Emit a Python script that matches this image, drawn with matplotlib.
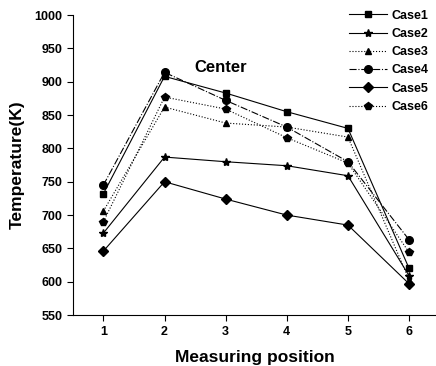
import matplotlib
matplotlib.use("Agg")
import matplotlib.pyplot as plt

positions = [1, 2, 3, 4, 5, 6]
case1 = [732, 908, 883, 855, 830, 620]
case2 = [673, 787, 780, 774, 759, 609]
case3 = [706, 862, 838, 832, 817, 603]
case4 = [745, 914, 872, 832, 780, 663]
case5 = [646, 750, 724, 700, 685, 597]
case6 = [690, 877, 859, 816, 778, 644]
labels = ["Case1", "Case2", "Case3", "Case4", "Case5", "Case6"]
yticks = [550, 600, 650, 700, 750, 800, 850, 900, 950, 1000]

plt.rcParams['font.family'] = ['Liberation Sans', 'DejaVu Sans']
plt.rcParams['font.weight'] = 'bold'

fig = plt.figure(figsize=(4.36, 3.66), dpi=100)
ax = fig.add_axes([0.167, 0.139, 0.833, 0.820])

series = [case1, case2, case3, case4, case5, case6]
markers = ['s', '*', '^', 'o', 'D', 'p']
styles = ['-', '-', ':', '-.', '-', ':']
msizes = [5, 6, 5, 5.5, 5, 6]
for ys, m, ls, ms, lab in zip(series, markers, styles, msizes, labels):
    ax.plot(positions, ys, color='black', linestyle=ls, linewidth=0.8,
            marker=m, markersize=ms, label=lab)

ax.set_xlim(0.5, 6.44)
ax.set_ylim(550, 1000)
ax.set_xticks(positions)
ax.set_yticks(yticks)
ax.spines['top'].set_visible(False)
ax.spines['right'].set_visible(False)
ax.tick_params(direction='out', length=4, width=0.8, labelsize=9)
for t in ax.get_xticklabels() + ax.get_yticklabels():
    t.set_fontweight('bold')

ax.set_xlabel("Measuring position", fontsize=12.5, fontweight='bold', labelpad=9)
ax.set_ylabel("Temperature(K)", fontsize=12.5, fontweight='bold', labelpad=7)
ax.text(2.92, 922, "Center", fontsize=12, fontweight='bold', ha='center', va='center')

leg = ax.legend(loc='upper right', bbox_to_anchor=(1.011, 1.055), frameon=False,
                prop={'weight': 'bold', 'size': 9}, handlelength=3.0,
                labelspacing=0.5, handletextpad=0.4)

fig.savefig("out.png", dpi=100)
